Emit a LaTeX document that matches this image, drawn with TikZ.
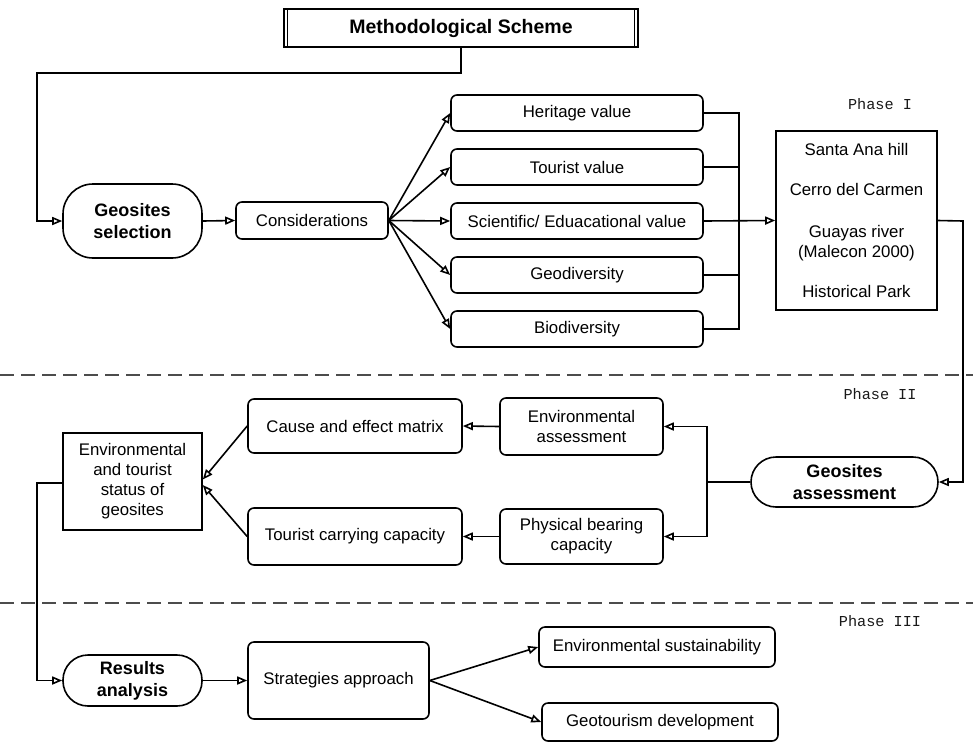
\documentclass[tikz,border=0pt]{standalone}
\usepackage{fontspec}
\setmainfont{Liberation Sans}
\setmonofont{Liberation Mono}
\usetikzlibrary{arrows.meta,calc}
\begin{document}
\begin{tikzpicture}[x=1pt,y=-1pt,
  base/.style={draw, line width=1.6pt, inner sep=0pt, align=center, font=\fontsize{16.8}{20}\selectfont},
  rbox/.style={base, rounded corners=6pt},
  sbox/.style={base},
  stad/.style={base, font=\fontsize{18}{22}\selectfont\bfseries},
  conn/.style={line width=1.6pt},
  arr/.style={conn, -{Triangle[open, length=10pt, width=8pt]}},
  phase/.style={font=\ttfamily\fontsize{15.2}{18}\selectfont, text=black!90},
  sep/.style={line width=1.1pt, draw=black!70, dash pattern=on 14pt off 7pt}
]
\useasboundingbox (0,0) rectangle (973,742);

% title
\node[sbox, minimum width=354pt, minimum height=38pt, font=\fontsize{19.5}{22}\selectfont\bfseries] (title) at (461,28) {Methodological Scheme};
\draw[line width=1.1pt] ($(title.north west)+(4,0)$) -- ($(title.south west)+(4,0)$);
\draw[line width=1.1pt] ($(title.north east)+(-4,0)$) -- ($(title.south east)+(-4,0)$);

% Phase I
\node[stad, rounded corners=30pt, minimum width=139pt, minimum height=74pt] (gsel) at (132.5,221) {Geosites\\selection};
\node[rbox, minimum width=152pt, minimum height=37pt] (cons) at (312,220.5) {Considerations};
\node[rbox, minimum width=252pt, minimum height=36pt] (her) at (577,113) {Heritage value};
\node[rbox, minimum width=252pt, minimum height=36pt] (tou) at (577,167) {Tourist value};
\node[rbox, minimum width=252pt, minimum height=36pt] (sci) at (577,221) {Scientific/ Eduacational value};
\node[rbox, minimum width=252pt, minimum height=36pt] (geo) at (577,275) {Geodiversity};
\node[rbox, minimum width=252pt, minimum height=36pt] (bio) at (577,329) {Biodiversity};
\node[sbox, minimum width=161pt, minimum height=179pt] (sites) at (856.5,220.5) {Santa Ana hill\\[20pt]Cerro del Carmen\\[22pt]Guayas river\\(Malecon 2000)\\[20pt]Historical Park};
\node[phase] (ph1) at (880,104) {Phase I};

% Phase II
\node[stad, rounded corners=25pt, minimum width=187pt, minimum height=50pt] (assess) at (844.5,482) {Geosites\\assessment};
\node[rbox, minimum width=163pt, minimum height=57pt] (envas) at (581.5,426.5) {Environmental\\assessment};
\node[rbox, minimum width=163pt, minimum height=55pt] (phys) at (581.5,536.5) {Physical bearing\\capacity};
\node[rbox, minimum width=214pt, minimum height=54pt] (cause) at (355,426) {Cause and effect matrix};
\node[rbox, minimum width=214pt, minimum height=57pt] (tcc) at (355,536.5) {Tourist carrying capacity};
\node[sbox, minimum width=139pt, minimum height=97pt] (status) at (132.5,481.5) {Environmental\\and tourist\\status of\\geosites};
\node[phase] (ph2) at (880,394) {Phase II};

% Phase III
\node[stad, rounded corners=25pt, minimum width=139pt, minimum height=51pt] (res) at (132.5,680.5) {Results\\analysis};
\node[rbox, minimum width=181pt, minimum height=77pt] (strat) at (338.5,680.5) {Strategies approach};
\node[rbox, minimum width=236pt, minimum height=40pt] (envsus) at (657,647) {Environmental sustainability};
\node[rbox, minimum width=236pt, minimum height=38pt] (geot) at (660,722) {Geotourism development};
\node[phase] (ph3) at (880,621) {Phase III};

% separators
\coordinate (s1l) at (0,375); \coordinate (s1r) at (973,375);
\coordinate (s2l) at (0,603); \coordinate (s2r) at (973,603);
\draw[sep] (s1l) -- (s1r);
\draw[sep] (s2l) -- (s2r);

% connectors phase I
\draw[arr] (title.south) -- (461,73) -- (37,73) |- (gsel.west);
\draw[arr] (gsel.east) -- (cons.west);
\foreach \n in {her,tou,sci,geo,bio} \draw[arr] (cons.east) -- (\n.west);
\coordinate (brk) at (739,221);
\draw[conn] (her.east) -| (brk);
\draw[conn] (bio.east) -| (brk);
\draw[conn] (tou.east) -- (tou.east -| brk);
\draw[conn] (geo.east) -- (geo.east -| brk);
\draw[arr] (sci.east) -- (sites.west);
\draw[arr] (sites.east) -- (963,221) |- (assess.east);

% connectors phase II
\coordinate (fork) at (707,482);
\draw[conn] (assess.west) -- (fork);
\draw[arr] (fork) |- (envas.east);
\draw[arr] (fork) |- (phys.east);
\draw[arr] (envas.west) -- (cause.east);
\draw[arr] (phys.west) -- (tcc.east);
\draw[arr] (cause.west) -- ($(status.east)+(0,-2)$);
\draw[arr] (tcc.west) -- ($(status.east)+(0,3.5)$);
\draw[arr] ($(status.west)+(0,1.5)$) -- (37,483) |- (res.west);

% connectors phase III
\draw[arr] (res.east) -- (strat.west);
\draw[arr] (strat.east) -- (envsus.west);
\draw[arr] (strat.east) -- (geot.west);
\end{tikzpicture}
\end{document}
